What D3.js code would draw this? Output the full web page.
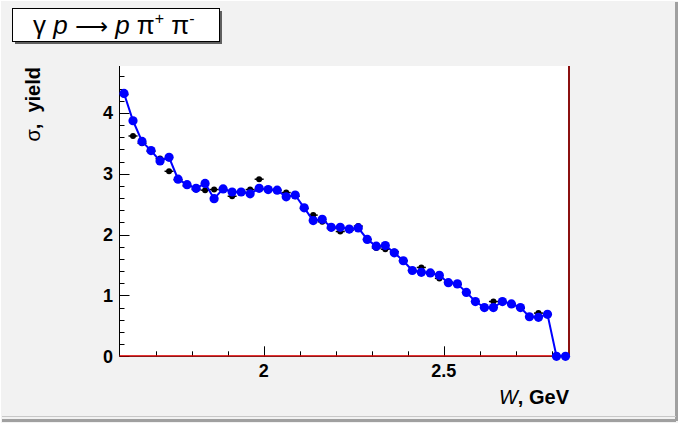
<!DOCTYPE html>
<html><head><meta charset="utf-8">
<script src="https://cdn.jsdelivr.net/npm/d3@7"></script>
<style>body{margin:0;background:#f2f2f2;}svg{display:block;font-family:"Liberation Sans",Arial,sans-serif;}</style>
</head><body>
<svg id="c" width="678" height="423"></svg>
<script>
const binStart = 1.6, binWidth = 0.025;
const blueValues = [4.32,3.87,3.53,3.38,3.21,3.27,2.91,2.82,2.76,2.84,
  2.59,2.75,2.70,2.70,2.67,2.76,2.74,2.73,2.62,2.65,
  2.44,2.23,2.25,2.12,2.12,2.09,2.11,1.92,1.81,1.82,
  1.70,1.57,1.41,1.38,1.37,1.33,1.21,1.19,1.05,0.90,
  0.80,0.80,0.90,0.86,0.80,0.65,0.64,0.69,0,0];
const blackValues = [4.30,3.62,3.50,3.37,3.25,3.04,2.90,2.80,2.74,2.73,
  2.74,2.74,2.63,2.70,2.74,2.91,2.74,2.73,2.69,2.63,
  2.43,2.32,2.21,2.10,2.05,2.07,2.14,1.92,1.78,1.76,
  1.72,1.57,1.41,1.46,1.38,1.28,1.22,1.18,1.05,0.90,
  0.80,0.90,0.89,0.86,0.79,0.65,0.71,0.69];
const xTicks = [2, 2.5];
const yTicks = [0,1,2,3,4];

const svg = d3.select("#c");
// canvas frame
svg.append("rect").attr("x",0).attr("y",0).attr("width",678).attr("height",423).attr("fill","#f2f2f2");
svg.append("line").attr("x1",0).attr("x2",678).attr("y1",0.5).attr("y2",0.5).attr("stroke","#ffffff");
svg.append("line").attr("x1",0.5).attr("x2",0.5).attr("y1",0).attr("y2",423).attr("stroke","#ffffff");
svg.append("line").attr("x1",2).attr("x2",676).attr("y1",420.5).attr("y2",420.5).attr("stroke","#a0a0a0").attr("stroke-width",3);
svg.append("line").attr("x1",676.5).attr("x2",676.5).attr("y1",2).attr("y2",421).attr("stroke","#a0a0a0").attr("stroke-width",3);
svg.append("line").attr("x1",2).attr("x2",676).attr("y1",416.5).attr("y2",416.5).attr("stroke","#c8c8c8").attr("stroke-width",1);

const L=119.5, R=570, T=66, B=356.3;
const x = d3.scaleLinear().domain([1.6, 2.85]).range([L, R]);
const y = d3.scaleLinear().domain([0, 4.77]).range([B, T]);

svg.append("rect").attr("x",L).attr("y",T).attr("width",R-L).attr("height",B-T).attr("fill","#fff");

// ticks
const g = svg.append("g");
d3.range(0, 4.8, 0.2).forEach(v=>{
  const major = Math.abs(v-Math.round(v))<1e-6;
  g.append("line").attr("x1",L).attr("x2",L+(major?10:5)).attr("y1",Math.round(y(v))+0.5).attr("y2",Math.round(y(v))+0.5).attr("stroke","#000");
});
d3.range(1.7, 2.85, 0.1).forEach(v=>{
  const major = xTicks.some(t=>Math.abs(t-v)<1e-6);
  g.append("line").attr("y1",B).attr("y2",B-(major?10:5)).attr("x1",Math.round(x(v))+0.5).attr("x2",Math.round(x(v))+0.5).attr("stroke","#000");
});
// axis lines
g.append("line").attr("x1",L).attr("x2",L).attr("y1",T).attr("y2",B).attr("stroke","#000");
g.append("line").attr("x1",L).attr("x2",R).attr("y1",B).attr("y2",B).attr("stroke","#000");
// red histogram baseline and edge
g.append("line").attr("x1",L).attr("x2",R).attr("y1",B-0.5).attr("y2",B-0.5).attr("stroke","#ee0000").attr("stroke-width",1.2);
g.append("line").attr("x1",R-1).attr("x2",R-1).attr("y1",T).attr("y2",B).attr("stroke","#8b1010").attr("stroke-width",2);

// tick labels
yTicks.forEach(v=>{
  svg.append("text").attr("x",113).attr("y",y(v)+6.5).attr("text-anchor","end").attr("font-size",18).attr("font-weight","bold").text(d3.format("d")(v));
});
xTicks.forEach(v=>{
  svg.append("text").attr("x",x(v)).attr("y",377).attr("text-anchor","middle").attr("font-size",18).attr("font-weight","bold").text(String(v));
});

const cx = i => x(binStart + binWidth*(i+0.5));
// black points
const bk = svg.append("g");
blackValues.forEach((v,i)=>{
  bk.append("line").attr("x1",x(binStart+binWidth*i)).attr("x2",x(binStart+binWidth*(i+1))).attr("y1",y(v)).attr("y2",y(v)).attr("stroke","#000").attr("stroke-width",1.5);
  bk.append("circle").attr("cx",cx(i)).attr("cy",y(v)).attr("r",3).attr("fill","#000");
});
// blue line + points
svg.append("path").datum(blueValues).attr("fill","none").attr("stroke","#0000ff").attr("stroke-width",2)
  .attr("d", d3.line().x((d,i)=>cx(i)).y(d=>y(d)));
svg.append("g").selectAll("circle").data(blueValues).join("circle")
  .attr("cx",(d,i)=>cx(i)).attr("cy",d=>y(d)).attr("r",4.6).attr("fill","#0000ff");

// axis titles
svg.append("text").attr("transform","translate(40,67) rotate(-90)").attr("text-anchor","end").attr("font-size",20).attr("font-weight","bold")
  .html('<tspan font-weight="normal">σ</tspan>,\u00a0\u00a0yield');
svg.append("text").attr("x",569).attr("y",404).attr("text-anchor","end").attr("font-size",20).attr("font-weight","bold")
  .html('<tspan font-style="italic" font-weight="normal">W</tspan>, GeV');

// title box
svg.append("rect").attr("x",15).attr("y",11).attr("width",207).attr("height",33).attr("fill","#606060");
svg.append("rect").attr("x",12.5).attr("y",8.5).attr("width",207).attr("height",33).attr("fill","#fff").attr("stroke","#000");
svg.append("text").attr("x",33).attr("y",34).attr("text-anchor","start").attr("font-size",26)
  .html('γ\u00a0<tspan font-style="italic">p</tspan>\u00a0<tspan font-family="DejaVu Sans" font-size="23">⟶</tspan>\u00a0<tspan font-style="italic">p</tspan>\u00a0π<tspan font-size="16" dy="-10">+</tspan><tspan dy="10">\u00a0π</tspan><tspan font-size="16" dy="-10">-</tspan>');
</script>
</body></html>
